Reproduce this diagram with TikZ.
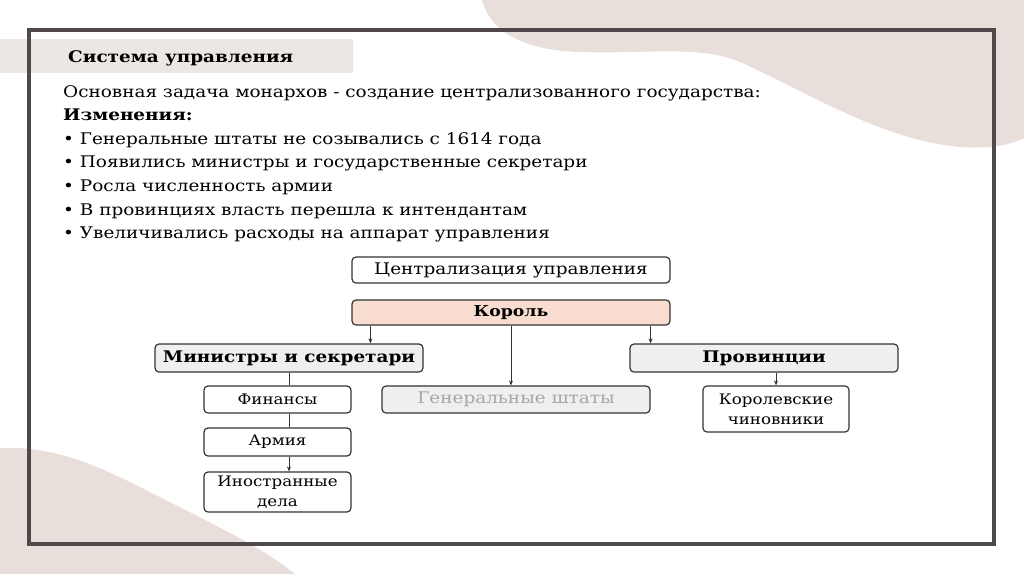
\documentclass[tikz,border=0pt]{standalone}
\usepackage{fontspec}
\setmainfont[FakeStretch=1.15]{DejaVu Serif}
\usetikzlibrary{arrows.meta, positioning}

\definecolor{blob}{HTML}{E8DEDA}
\definecolor{band}{HTML}{ECE7E3}
\definecolor{frameline}{HTML}{4F4949}
\definecolor{boxline}{HTML}{333333}
\definecolor{kingfill}{HTML}{F8DCCF}
\definecolor{grayfill}{HTML}{EFEFEF}

\begin{document}
\begin{tikzpicture}[
    x=1pt, y=-1pt,
    >={Stealth[length=5pt, width=4pt]},
    on grid,
    box/.style={draw=boxline, line width=1.2pt, rounded corners=4pt, fill=white,
        inner sep=0pt, align=center, font=\fontsize{14.5}{20}\selectfont},
    headbox/.style={box, fill=grayfill, font=\fontsize{16}{20}\selectfont\bfseries},
    link/.style={draw=boxline, line width=0.9pt},
]

    % background
    \path[use as bounding box, fill=white] (0,0) rectangle (1024,574);
    \fill[blob] (482,0) .. controls (490,30) and (520,50) .. (580,52)
        .. controls (650,54) and (700,45) .. (740,62)
        .. controls (800,88) and (880,140) .. (960,147)
        .. controls (990,149) and (1010,145) .. (1024,138) -- (1024,0) -- cycle;
    \fill[blob] (0,448) .. controls (50,446) and (90,462) .. (140,487)
        .. controls (200,518) and (260,545) .. (295,574) -- (0,574) -- cycle;
    \fill[band] (0,39) rectangle (353,73);
    \draw[frameline, line width=4pt] (29,30) rectangle (994,544);

    % text
    \node[anchor=base west, inner sep=0pt, font=\fontsize{16}{20}\selectfont\bfseries] (title) at (68,62) {Система управления};
    \node[anchor=north west, align=left, inner sep=0pt, font=\fontsize{16}{23.6}\selectfont] (body) at (63,85) {%
        Основная задача монархов - создание централизованного государства:\\
        \textbf{Изменения:}\\
        • Генеральные штаты не созывались с 1614 года\\
        • Появились министры и государственные секретари\\
        • Росла численность армии\\
        • В провинциях власть перешла к интендантам\\
        • Увеличивались расходы на аппарат управления};

    % scheme
    \node[box, minimum width=318, minimum height=26, font=\fontsize{16}{20}\selectfont] (centr) at (511,270) {Централизация управления};
    \node[box, fill=kingfill, minimum width=318, minimum height=25, font=\fontsize{15}{20}\selectfont\bfseries] (korol) at (511,312.5) {Король};
    \node[headbox, minimum width=268, minimum height=28] (min) at (289,358) {Министры и секретари};
    \node[headbox, minimum width=268, minimum height=28] (prov) at (764,358) {Провинции};
    \node[box, minimum width=147, minimum height=27] (fin) at (277.5,399.5) {Финансы};
    \node[box, minimum width=147, minimum height=28, below=42.5pt of fin] (arm) {Армия};
    \node[box, minimum width=147, minimum height=40, below=50pt of arm] (ino) {Иностранные\\дела};
    \node[box, fill=grayfill, text=black!35, minimum width=268, minimum height=27, font=\fontsize{16}{20}\selectfont] (gen) at (516,399.5) {Генеральные штаты};
    \node[box, minimum width=146, minimum height=46] (chin) at (776,409) {Королевские\\чиновники};

    \draw[link, ->] ([xshift=19pt]korol.south west) -- ([xshift=19pt]korol.south west |- min.north);
    \draw[link, ->] ([xshift=-20pt]korol.south east) -- ([xshift=-20pt]korol.south east |- prov.north);
    \draw[link, ->] (korol.south) -- (korol.south |- gen.north);
    \draw[link] (min.south) -- (min.south |- fin.north);
    \draw[link] (min.south |- fin.south) -- (min.south |- arm.north);
    \draw[link, ->] (min.south |- arm.south) -- (min.south |- ino.north);
    \draw[link, ->] (prov.south -| chin.north) -- (chin.north);
\end{tikzpicture}
\end{document}
